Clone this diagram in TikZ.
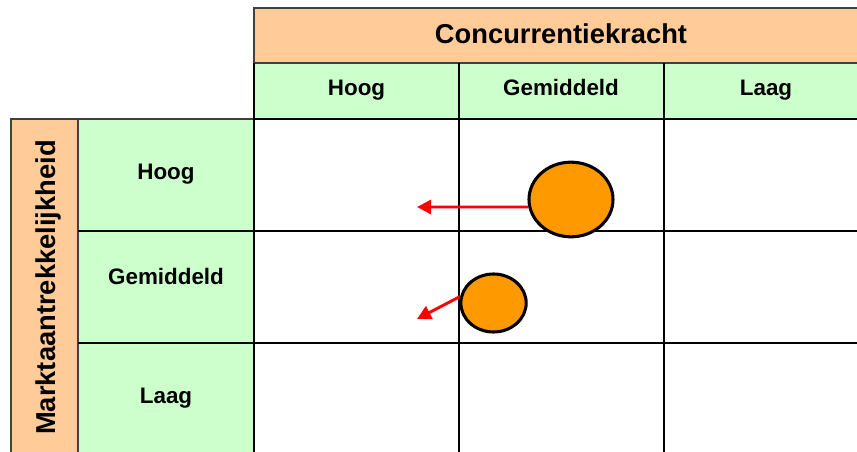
\documentclass[tikz,border=0pt]{standalone}
\usepackage{fontspec}
\setmainfont{Liberation Sans}
\usetikzlibrary{arrows.meta,shapes.geometric}
\definecolor{peach}{RGB}{255,204,153}
\definecolor{palegreen}{RGB}{204,255,204}
\definecolor{bubble}{RGB}{255,153,0}

\begin{document}
\begin{tikzpicture}[x=0.75pt,y=0.75pt,yscale=-1,xscale=1,
  title/.style={font=\fontsize{20.5}{24}\selectfont\bfseries, inner sep=0.75pt, anchor=base},
  label/.style={font=\fontsize{16.8}{20}\selectfont\bfseries, inner sep=0.75pt, anchor=base},
  grid/.style={line width=1.5pt},
  bubblenode/.style={ellipse, draw, line width=2.3pt, fill=bubble, inner sep=0pt},
  move/.style={draw=red, line width=2.2pt, -{Triangle[length=10.5pt,width=10.5pt]}}]
\useasboundingbox (0,0) rectangle (857,452);
\clip (0,0) rectangle (857,452);

%Shape: Rectangle [header top]
\draw [draw=black!75, line width=0.8pt, fill=peach] (254,8) -- (880,8) -- (880,63) -- (254,63) -- cycle ;
%Shape: Rectangle [header green]
\draw [draw=black!75, line width=0.8pt, fill=palegreen] (254,63) -- (880,63) -- (880,119) -- (254,119) -- cycle ;
%Shape: Rectangle [side orange]
\draw [draw=black!75, line width=0.8pt, fill=peach] (11,119) -- (78,119) -- (78,470) -- (11,470) -- cycle ;
%Shape: Rectangle [side green]
\draw [draw=black!75, line width=0.8pt, fill=palegreen] (78,119) -- (254,119) -- (254,470) -- (78,470) -- cycle ;

%Grid lines
\draw [grid] (254,119) -- (880,119) ;
\draw [grid] (254,63) -- (254,470) ;
\draw [grid] (459,63) -- (459,470) ;
\draw [grid] (664,63) -- (664,470) ;
\draw [grid] (78,231) -- (880,231) ;
\draw [grid] (78,343) -- (880,343) ;

% Text Node
\node [title] (kracht) at (561,43.5) {Concurrentiekracht};
% Text Node
\node [title, rotate=90] (aantrek) at (55,287.5) {Marktaantrekkelijkheid};
% Text Node
\node [label] (colhoog) at (356.5,95.5) {Hoog};
% Text Node
\node [label] (colgem) at (561,95.5) {Gemiddeld};
% Text Node
\node [label] (collaag) at (766,95.5) {Laag};
% Text Node
\node [label] (rowhoog) at (166,180) {Hoog};
% Text Node
\node [label] (rowgem) at (166,285) {Gemiddeld};
% Text Node
\node [label] (rowlaag) at (166,403) {Laag};

%Shape: Ellipse [big]
\node [bubblenode, minimum width=63pt, minimum height=56pt] (groot) at (571,199.5) {};
%Shape: Ellipse [small]
\node [bubblenode, minimum width=49pt, minimum height=43.5pt] (klein) at (493.5,303) {};

\coordinate (grooteind) at (417,207);
\coordinate (kleineind) at (417,319);
\draw [move] (groot.190) -- (grooteind) ;
\draw [move] (klein.169) -- (kleineind) ;

\end{tikzpicture}
\end{document}
